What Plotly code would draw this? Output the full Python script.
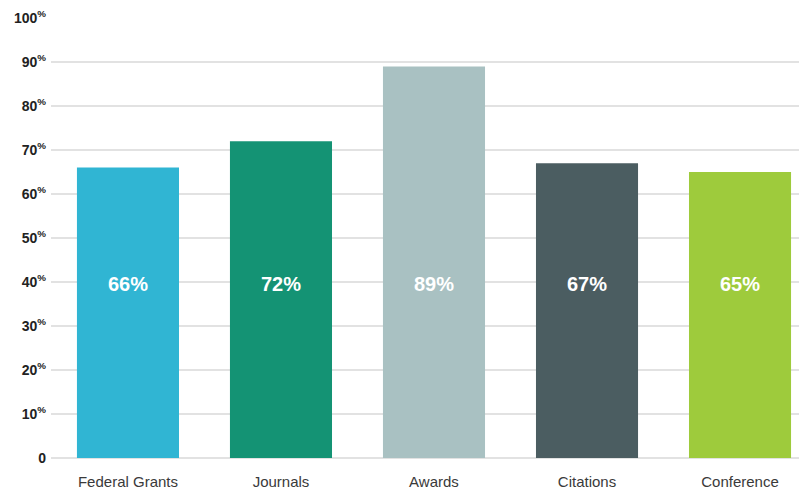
import plotly.graph_objects as go

categories = ["Federal Grants", "Journals", "Awards", "Citations", "Conference"]
values = [66, 72, 89, 67, 65]
colors = ["#30B5D3", "#149374", "#A9C1C2", "#4B5D61", "#9ECB3C"]
tick_vals = [0, 10, 20, 30, 40, 50, 60, 70, 80, 90, 100]
tick_text = ["0"] + [f"{v}<sup>%</sup>" for v in tick_vals[1:]]

cond = "Liberation Sans, Arial, sans-serif"

fig = go.Figure()
fig.add_trace(go.Bar(
    x=categories, y=values, marker=dict(color=colors, line=dict(width=0)),
    width=0.667, hoverinfo="skip",
))
for c, v in zip(categories, values):
    fig.add_annotation(x=c, y=39.5, text=f"{v}%", showarrow=False,
                       font=dict(family=cond, size=20, color="white", weight="bold"))

fig.update_layout(
    width=807, height=494,
    margin=dict(l=43, r=0, t=10, b=44),
    plot_bgcolor="white", paper_bgcolor="white",
    showlegend=False,
    xaxis=dict(range=[-0.503, 4.49], showgrid=False, showline=False, ticks="",
               automargin=False,
               tickfont=dict(family=cond, size=15, color="#3a3a3a"), ticklabelstandoff=13),
    yaxis=dict(range=[0, 100], tickvals=tick_vals, ticktext=tick_text,
               automargin=False,
               showgrid=True, gridcolor="#e2e2e2", gridwidth=1.5,
               zeroline=True, zerolinecolor="#e2e2e2", zerolinewidth=1.5,
               ticks="", ticklabelstandoff=4,
               tickfont=dict(family="Liberation Sans, Arial", size=14, color="#222222", weight="bold")),
)
fig.write_html("out.html")
